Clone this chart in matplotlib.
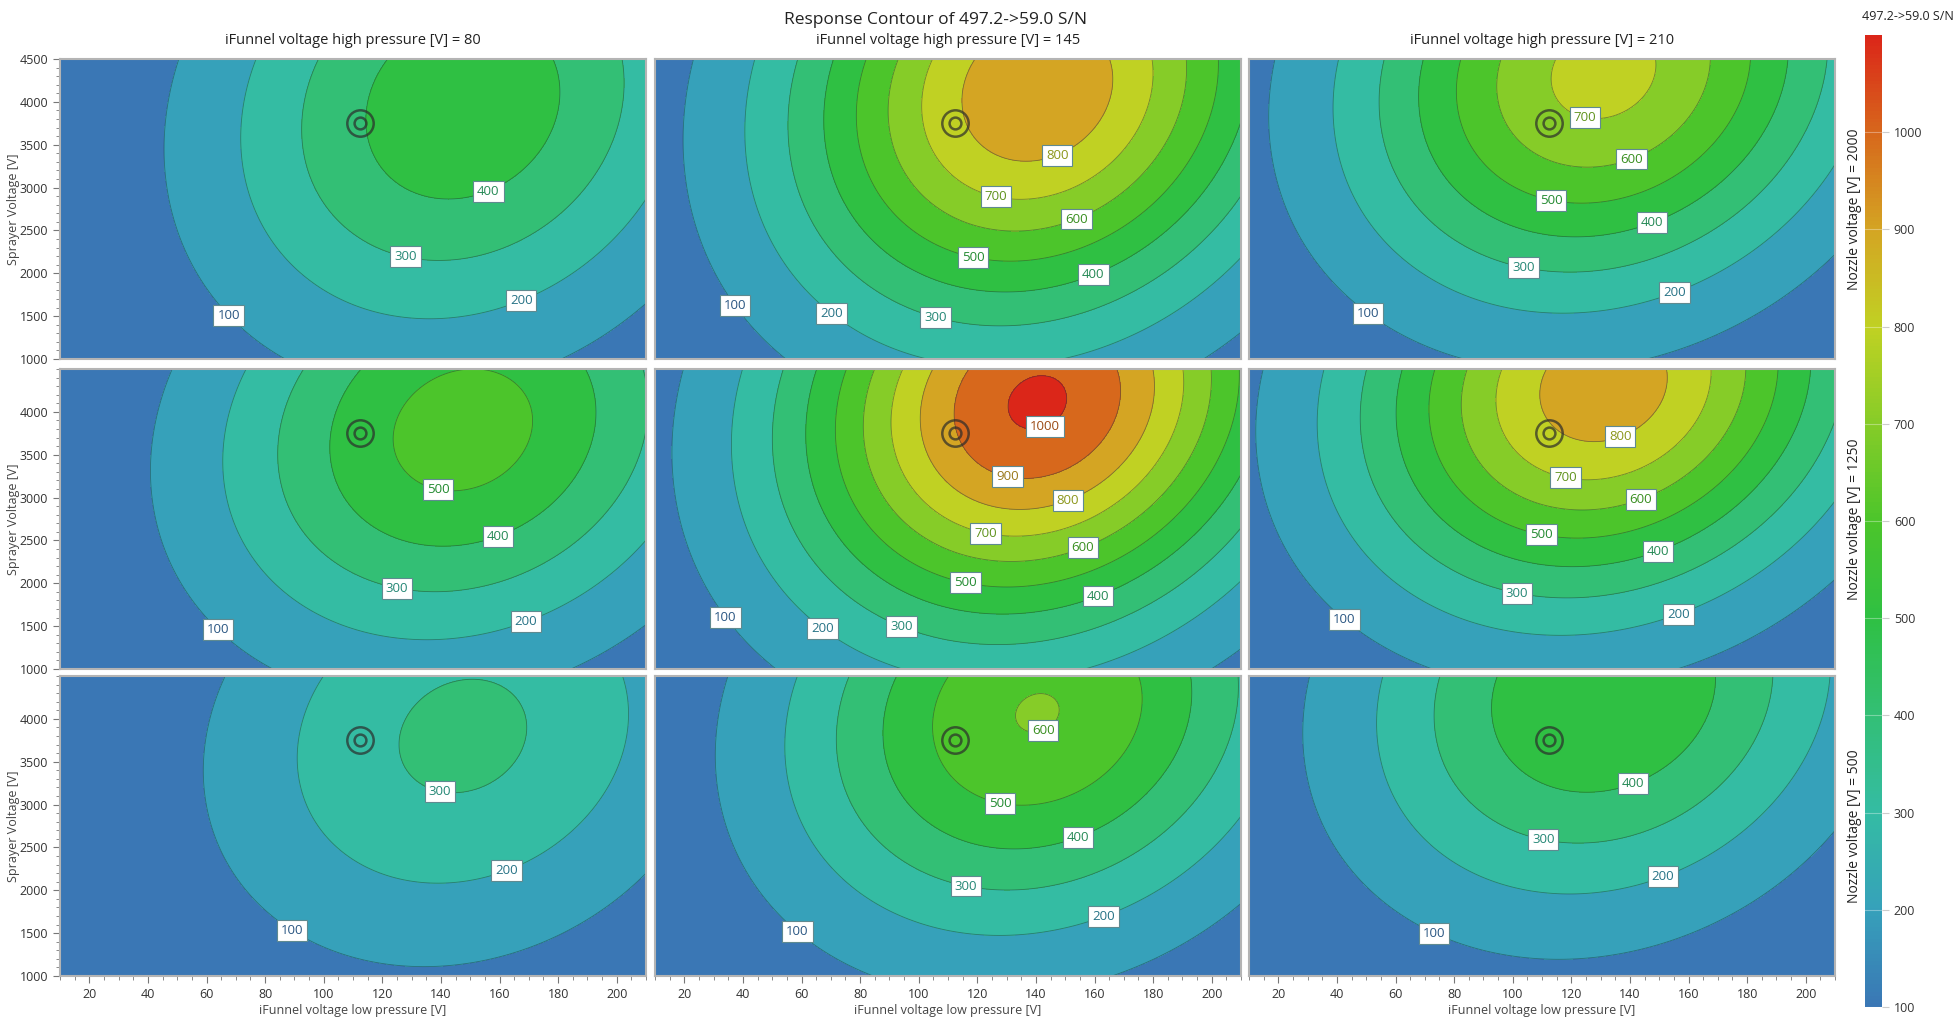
import numpy as np
import matplotlib.pyplot as plt
from matplotlib.colors import LinearSegmentedColormap, Normalize, to_rgb
from matplotlib.cm import ScalarMappable
from matplotlib.ticker import MultipleLocator

plt.rcParams['font.family'] = ['Open Sans', 'DejaVu Sans']

# factor settings shown in the grid
funnel_high = [80, 145, 210]      # columns
nozzle = [2000, 1250, 500]        # rows

# response surface per panel:
# peak S/N, where the peak sits, and how fast it falls off
peak_sn = [[471, 883, 735],
           [544, 1015, 860],
           [322, 605, 500]]
peak_low_pressure = [147.5, 140.5, 131.0]
peak_sprayer = [[3950, 4140, 4350],
                [3790, 4110, 4300],
                [3800, 4070, 4300]]
spread_low_pressure = [81, 81, 80]
spread_sprayer = [[2650, 2620, 2440],
                  [2420, 2530, 2380],
                  [2460, 2440, 2420]]
tilt = -0.15

# current set point (double ring)
setpoint_low_pressure = 112.5
setpoint_sprayer = 3755

levels = [100, 200, 300, 400, 500, 600, 700, 800, 900, 1000]
band_colors = ['#3a77b5', '#36a1ba', '#34bca3', '#33bf75', '#2fc043', '#4cc52b',
               '#86cc28', '#c0d123', '#d4a523', '#d7681c', '#db2619']

W, H = 1959, 1021
fig = plt.figure(figsize=(W / 100, H / 100), dpi=100)

col_x = [60, 655, 1249]
col_w = 586
row_y = [59, 369, 676]
row_h = 300

xg = np.linspace(10, 210, 300)
yg = np.linspace(1000, 4500, 300)
X, Y = np.meshgrid(xg, yg)

cmap = LinearSegmentedColormap.from_list('sn', list(zip(np.linspace(0, 1, 11), band_colors)))
norm = Normalize(100, 1100)


def label_points(P, x0, y0, sx, sy):
    # one spot on each contour, below the peak, moved left until it is inside
    pts = []
    for i, L in enumerate(levels):
        if L >= P:
            break
        rr = np.sqrt(np.log(P / L))
        base = -110 if i % 2 == 0 else -74
        for a in np.arange(base, base - 200, -3):
            t = np.radians(a)
            k = rr / np.sqrt(1 + tilt * np.sin(2 * t))
            x = x0 + sx * k * np.cos(t)
            y = y0 + sy * k * np.sin(t)
            if 22 <= x <= 200 and 1450 <= y <= 4300:
                pts.append((x, y))
                break
    return pts


for r in range(3):
    for c in range(3):
        ax = fig.add_axes([col_x[c] / W, 1 - (row_y[r] + row_h) / H, col_w / W, row_h / H])
        P = peak_sn[r][c]
        x0 = peak_low_pressure[c]
        y0 = peak_sprayer[r][c]
        sx = spread_low_pressure[c]
        sy = spread_sprayer[r][c]
        U = (X - x0) / sx
        V = (Y - y0) / sy
        Z = P * np.exp(-(U ** 2 + V ** 2 + 2 * tilt * U * V))

        ax.contourf(X, Y, Z, levels=levels, colors=band_colors, extend='both')
        cs = ax.contour(X, Y, Z, levels=levels, colors='#1d3b3b', linewidths=0.6, alpha=0.5)
        texts = ax.clabel(cs, manual=label_points(P, x0, y0, sx, sy), inline=False,
                          fmt='%d', fontsize=9.5)
        for t in texts:
            t.set_rotation(0)
            val = float(t.get_text())
            col = np.array(to_rgb(cmap(norm(val)))) * 0.72
            t.set_color(col)
            t.set_bbox(dict(boxstyle='square,pad=0.3', fc='white', ec='#5f8a90', lw=0.8))
            t.set_alpha(1)

        ax.plot(setpoint_low_pressure, setpoint_sprayer, 'o', ms=19, mfc='none',
                mec='#2b2b2b', mew=1.8, alpha=0.7)
        ax.plot(setpoint_low_pressure, setpoint_sprayer, 'o', ms=8.5, mfc='none',
                mec='#2b2b2b', mew=1.8, alpha=0.7)

        ax.set_xlim(10, 210)
        ax.set_ylim(1000, 4500)
        ax.xaxis.set_major_locator(MultipleLocator(20))
        ax.xaxis.set_minor_locator(MultipleLocator(5))
        if r == 0:
            ax.set_yticks(np.arange(1000, 4501, 500))
        else:
            ax.set_yticks(np.arange(1000, 4001, 500))
        ax.yaxis.set_minor_locator(MultipleLocator(100))
        ax.tick_params(which='both', direction='out', color='#777777', labelsize=9,
                       labelcolor='#333333')
        ax.tick_params(which='major', length=5)
        ax.tick_params(which='minor', length=3)
        for s in ax.spines.values():
            s.set_color('#b4b4b4')
            s.set_linewidth(1.5)

        if r < 2:
            ax.tick_params(axis='x', which='both', bottom=False, labelbottom=False)
        else:
            ax.set_xlabel('iFunnel voltage low pressure [V]', fontsize=9, color='#444444',
                          labelpad=2)
        if c > 0:
            ax.tick_params(axis='y', which='both', left=False, labelleft=False)
        else:
            ax.set_ylabel('Sprayer Voltage [V]', fontsize=9, color='#444444', labelpad=0)

for c in range(3):
    fig.text((col_x[c] + col_w / 2) / W, 1 - 41 / H,
             f'iFunnel voltage high pressure [V] = {funnel_high[c]}',
             ha='center', va='center', fontsize=10.5, color='#222222')

for r in range(3):
    fig.text(1854 / W, 1 - (row_y[r] + row_h / 2) / H, f'Nozzle voltage [V] = {nozzle[r]}',
             rotation=90, ha='center', va='center', fontsize=10, color='#222222')

fig.text(936 / W, 1 - 20 / H, 'Response Contour of 497.2->59.0 S/N', ha='center',
         va='center', fontsize=12.5, color='#222222')

cax = fig.add_axes([1865 / W, 1 - 1007 / H, 17 / W, (1007 - 35) / H])
sm = ScalarMappable(norm=norm, cmap=cmap)
cb = fig.colorbar(sm, cax=cax, ticks=levels)
cb.outline.set_visible(False)
cax.tick_params(length=5, color='#cccccc', labelsize=9, labelcolor='#333333')
for L in levels:
    cax.axhline(L, color='white', lw=0.8, alpha=0.35)
fig.text(1908 / W, 1 - 17 / H, '497.2->59.0 S/N', ha='center', va='center', fontsize=9,
         color='#222222')

fig.savefig('out.png', dpi=100)
